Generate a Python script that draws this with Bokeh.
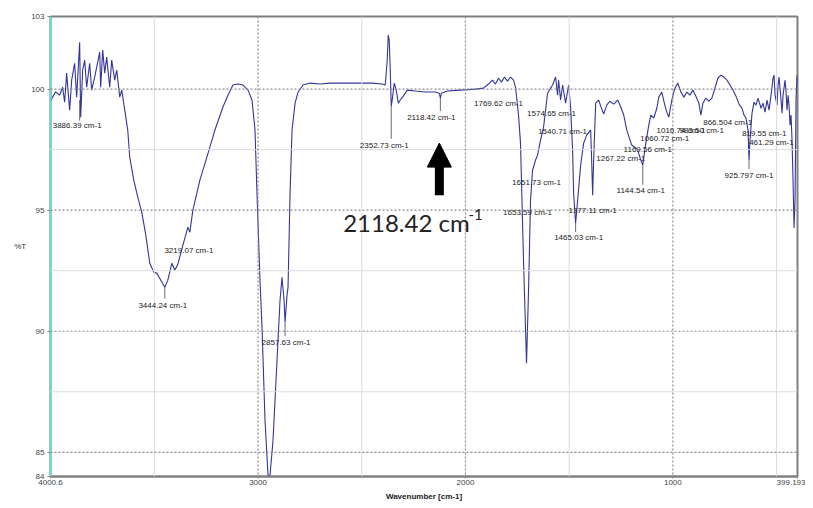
from bokeh.plotting import figure
from bokeh.models import (Range1d, FixedTicker, Span, Arrow, NormalHead,
                          ColumnDataSource, LabelSet, Label)
from bokeh.embed import file_html
from bokeh.resources import INLINE
from bokeh.core.properties import value

# ---------------- data (wavenumber cm-1, %T) ----------------
wn_noise = [4000.6, 3990.5, 3976.0, 3956.6, 3942.1, 3932.5, 3922.8, 3908.3, 3898.6, 3884.2,
            3874.5, 3860.0, 3855.2, 3845.5, 3835.9, 3826.2, 3811.7, 3802.1, 3787.6, 3777.9,
            3763.4, 3758.6, 3748.9, 3739.3, 3729.6, 3715.1, 3705.5, 3691.0, 3681.3, 3666.8,
            3657.1, 3642.6, 3628.2]
t_noise = [99.5, 99.67, 99.88, 99.75, 100.08, 99.46, 100.66, 99.13, 100.37, 101.07,
           99.67, 101.94, 98.84, 100.79, 101.2, 100.08, 101.07, 99.96, 100.5, 100.91,
           101.53, 100.08, 101.61, 100.66, 101.32, 100.08, 101.2, 100.37, 100.79, 99.67,
           99.96, 99.13, 98.31]

wn_oh = [3618.5, 3599.2, 3579.9, 3560.5, 3541.2, 3521.9, 3502.6, 3488.1, 3468.8, 3449.4,
         3434.9, 3415.6, 3401.1, 3386.6, 3362.5, 3338.3, 3328.7, 3314.2, 3280.4, 3246.6,
         3207.9, 3169.3, 3145.1, 3121.0, 3096.8, 3072.7, 3048.5, 3029.2]
t_oh = [97.19, 96.24, 95.54, 94.92, 93.97, 92.81, 92.44, 92.40, 92.11, 91.82,
        92.11, 92.81, 92.52, 92.77, 93.55, 94.30, 94.09, 95.00, 96.24, 97.19,
        98.31, 99.26, 99.75, 100.17, 100.21, 100.17, 99.96, 99.55]

wn_ch = [3014.7, 3005.1, 2990.6, 2980.9, 2966.4, 2951.9, 2942.3, 2927.8, 2908.5, 2894.0,
         2884.4, 2874.7, 2869.8, 2860.2, 2855.4, 2845.7, 2836.0, 2821.5, 2807.0, 2782.9,
         2749.1, 2700.8, 2652.5, 2580.0, 2507.6, 2449.6, 2401.3]
t_ch = [98.31, 95.70, 92.11, 90.17, 86.32, 84.05, 84.05, 85.50, 88.80, 91.28,
        92.23, 91.28, 90.37, 91.49, 91.82, 95.70, 98.31, 99.42, 99.88, 100.17,
        100.25, 100.21, 100.25, 100.25, 100.25, 100.25, 100.21]

wn_mid = [2386.8, 2377.1, 2372.3, 2367.5, 2362.6, 2357.8, 2353.0, 2343.4, 2333.7, 2324.0,
          2314.3, 2299.8, 2280.5, 2241.8, 2193.5, 2145.2, 2125.9, 2121.0, 2116.2, 2087.2,
          2024.4, 1951.9, 1913.3]
t_mid = [100.17, 101.2, 102.23, 102.02, 100.79, 99.30, 99.55, 100.25, 99.96, 99.42,
         99.55, 99.71, 99.96, 99.92, 99.88, 99.88, 99.83, 99.63, 99.83, 99.92,
         99.96, 100.0, 100.04]

wn_co = [1889.1, 1869.8, 1855.3, 1840.8, 1826.4, 1811.9, 1797.4, 1782.9, 1768.4, 1758.7,
         1744.2, 1734.6, 1720.1, 1705.6, 1695.9, 1686.3, 1676.6, 1662.1, 1652.5, 1638.0,
         1623.5, 1613.8, 1604.2, 1589.6, 1580.0, 1565.5, 1555.8, 1551.0, 1541.4, 1531.7,
         1517.2, 1502.7, 1493.1, 1483.4, 1478.6, 1468.9, 1459.2, 1444.7, 1430.2, 1415.7,
         1396.4, 1391.6, 1386.8, 1382.0, 1372.3, 1357.8]
t_co = [100.21, 100.37, 100.21, 100.45, 100.29, 100.5, 100.33, 100.5, 100.37, 100.08,
        98.93, 97.77, 92.93, 88.68, 91.69, 95.41, 96.65, 97.07, 97.27, 97.89,
        98.43, 99.13, 99.83, 100.04, 100.17, 100.5, 99.75, 100.37, 99.55, 100.17,
        99.42, 100.17, 99.26, 97.48, 95.70, 94.46, 95.41, 96.86, 97.77, 98.10,
        98.31, 97.07, 95.62, 97.07, 99.42, 99.55]

wn_fp = [1348.0, 1333.5, 1319.0, 1304.5, 1285.2, 1265.9, 1251.4, 1236.9, 1222.4, 1212.8,
         1198.3, 1183.8, 1169.3, 1154.8, 1145.1, 1135.5, 1125.8, 1116.2, 1106.5, 1092.0,
         1077.5, 1067.9, 1053.4, 1038.9, 1029.2, 1019.6, 1005.1, 990.6, 976.1, 961.6,
         947.1, 932.6, 918.1, 903.6, 889.1, 874.6, 864.9, 855.3, 840.8, 826.3,
         811.8, 797.3, 782.8, 768.3, 753.8, 739.3, 724.8, 710.3, 695.8, 681.3,
         666.8, 657.2, 647.5, 637.9, 633.0, 628.2, 618.5, 608.9, 599.2, 589.5,
         575.0, 565.4, 555.7, 546.1, 536.4, 526.8, 517.1, 512.3, 507.5, 497.8,
         493.0, 488.2, 478.5, 473.7, 468.9, 459.2, 454.4, 449.6, 444.8, 439.9,
         435.1, 430.3, 425.5, 420.7, 415.8, 411.0, 406.2, 401.4, 399.193]
t_fp = [99.30, 98.97, 99.34, 99.50, 99.38, 99.55, 99.26, 98.93, 98.31, 98.06,
        97.69, 97.60, 97.48, 97.07, 96.86, 97.48, 98.02, 98.51, 98.93, 98.80,
        99.21, 99.67, 99.88, 99.34, 99.05, 98.84, 99.55, 100.04, 100.25, 99.88,
        99.67, 99.88, 99.75, 99.96, 99.71, 99.42, 98.93, 99.42, 99.63, 99.50,
        99.63, 100.04, 100.45, 100.58, 100.5, 100.37, 100.17, 99.96, 99.71, 99.38,
        99.21, 98.93, 98.80, 98.31, 97.07, 97.89, 99.01, 99.46, 99.34, 99.63,
        99.21, 99.42, 99.05, 99.55, 99.13, 99.75, 100.45, 100.58, 99.75, 99.34,
        100.17, 100.5, 99.55, 99.01, 99.75, 100.37, 99.88, 99.13, 99.75, 99.34,
        98.51, 98.93, 97.89, 96.24, 94.26, 95.41, 99.55, 100.58, 100.2]

# peak labels
peak_text = ["3886.39 cm-1", "3444.24 cm-1", "3219.07 cm-1", "2857.63 cm-1", "2352.73 cm-1",
             "2118.42 cm-1", "1769.62 cm-1", "1574.65 cm-1", "1540.71 cm-1", "1651.73 cm-1",
             "1653.59 cm-1", "1377.11 cm-1", "1465.03 cm-1", "1267.22 cm-1", "1144.54 cm-1",
             "1169.56 cm-1", "1060.72 cm-1", "1016.74 cm-1", "983.50 cm-1", "866.504 cm-1",
             "819.55 cm-1", "461.29 cm-1", "925.797 cm-1"]
peak_lx = [3872.0, 3459.0, 3333.4, 2865.0, 2391.4, 2164.5, 1840.8, 1584.8, 1531.7, 1657.3,
           1700.8, 1386.8, 1454.4, 1251.4, 1155.0, 1121.0, 1039.0, 961.0, 861.0, 735.8,
           560.0, 525.0, 633.0]
peak_ly = [98.51, 91.07, 93.35, 89.55, 97.69, 98.84, 99.42, 99.00, 98.26, 96.16,
           94.92, 95.00, 93.88, 97.15, 95.83, 97.52, 97.98, 98.31, 98.31, 98.64,
           98.18, 97.81, 96.45]

# leader lines from peaks to labels
lead_x = [3860.0, 3449.4, 2869.8, 2357.8, 2121.0, 1468.9, 1145.1, 633.0]
lead_top = [99.55, 91.82, 90.37, 99.30, 99.63, 94.46, 96.86, 97.07]
lead_bot = [98.70, 91.35, 89.80, 97.95, 99.10, 94.10, 96.05, 96.70]

x_ticks = [4000.6, 3000, 2000, 1000, 399.193]
x_tick_labels = ["4000.6", "3000", "2000", "1000", "399.193"]
y_ticks = [84, 85, 90, 95, 100, 103]
x_major_grid = [3000, 2000, 1000]
x_minor_grid = [3500, 2500, 1500, 500]
y_major_grid = [100, 95, 90, 85]
y_minor_grid = [97.5, 92.5, 87.5]

# --------------------------------------------------------------------------
def seg(a, b):
    n = min(len(a), len(b))
    return list(a[:n]), list(b[:n])

wavenumber, transmittance = [], []
for a, b in [(wn_noise, t_noise), (wn_oh, t_oh), (wn_ch, t_ch), (wn_mid, t_mid),
             (wn_co, t_co), (wn_fp, t_fp)]:
    xa, yb = seg(a, b)
    wavenumber += xa
    transmittance += yb

p = figure(width=805, height=508, output_backend="svg", toolbar_location=None,
           x_range=Range1d(4000.6, 399.193), y_range=Range1d(84, 103),
           min_border_left=50, min_border_right=8, min_border_top=16, min_border_bottom=32)
p.background_fill_color = "white"
p.border_fill_color = "white"
p.xgrid.visible = False
p.ygrid.visible = False
p.outline_line_color = "#808080"
p.outline_line_width = 2

for v in x_minor_grid:
    p.add_layout(Span(location=v, dimension="height", line_color="#dcdcdc", line_width=1))
for v in y_minor_grid:
    p.add_layout(Span(location=v, dimension="width", line_color="#dcdcdc", line_width=1))
for v in x_major_grid:
    p.add_layout(Span(location=v, dimension="height", line_color="#8a8a8a", line_width=1.2,
                      line_dash="2 2"))
for v in y_major_grid:
    p.add_layout(Span(location=v, dimension="width", line_color="#8a8a8a", line_width=1.2,
                      line_dash="2 2"))

p.line(wavenumber, transmittance, line_color="#33359a", line_width=1.1)

p.segment(x0=lead_x, y0=lead_top, x1=lead_x, y1=lead_bot, line_color="#404060", line_width=0.8)

lsrc = ColumnDataSource(dict(x=peak_lx, y=peak_ly, t=peak_text))
p.add_layout(LabelSet(x="x", y="y", text="t", source=lsrc, text_align="center",
                      text_baseline="middle", text_font=value("Liberation Sans"),
                      text_font_size="8px", text_color="#222222"))

# big annotation
p.add_layout(Arrow(end=NormalHead(size=24, fill_color="black", line_color="black"),
                   x_start=2125.8, y_start=95.62, x_end=2125.8, y_end=97.77,
                   line_width=9, line_color="black"))
p.add_layout(Label(x=2589.5, y=94.50, text="2118.42 cm", text_font="Lato",
                   text_font_size="24px", text_color="#222222", text_align="left",
                   text_baseline="alphabetic"))
p.add_layout(Label(x=1985.6, y=94.83, text="-1", text_font="Lato",
                   text_font_size="15px", text_color="#222222", text_align="left",
                   text_baseline="alphabetic"))

# axes
p.xaxis.ticker = FixedTicker(ticks=x_ticks)
p.xaxis.major_label_overrides = {k: v for k, v in zip(x_ticks, x_tick_labels)}
p.yaxis.ticker = FixedTicker(ticks=y_ticks)
for ax in (p.xaxis[0], p.yaxis[0]):
    ax.major_label_text_font = "Liberation Sans"
    ax.major_label_text_font_size = "8px"
    ax.major_label_text_color = "#444444"
    ax.major_tick_in = 0
    ax.major_tick_out = 3
    ax.major_tick_line_color = "#888888"
    ax.minor_tick_line_color = None
    ax.major_label_standoff = 3
p.xaxis.major_tick_out = 2
p.xaxis.major_label_standoff = 1
p.xaxis.axis_line_color = "#808080"
p.xaxis.axis_line_width = 2
p.yaxis.axis_line_color = "#6ad8d8"
p.yaxis.axis_line_width = 2
p.xaxis.axis_label = "Wavenumber [cm-1]"
p.xaxis.axis_label_text_font = "Liberation Sans"
p.xaxis.axis_label_text_font_size = "8px"
p.xaxis.axis_label_text_font_style = "bold"
p.xaxis.axis_label_text_color = "#222222"
p.xaxis.axis_label_standoff = 4

p.yaxis.axis_label = "%T"
p.yaxis.axis_label_text_font = "Liberation Sans"
p.yaxis.axis_label_text_font_size = "8px"
p.yaxis.axis_label_text_font_style = "normal"
p.yaxis.axis_label_text_color = "#333333"
p.yaxis.axis_label_standoff = 2
try:
    p.yaxis.axis_label_orientation = "horizontal"
except Exception:
    pass

open("out.html", "w").write(file_html(p, INLINE))
